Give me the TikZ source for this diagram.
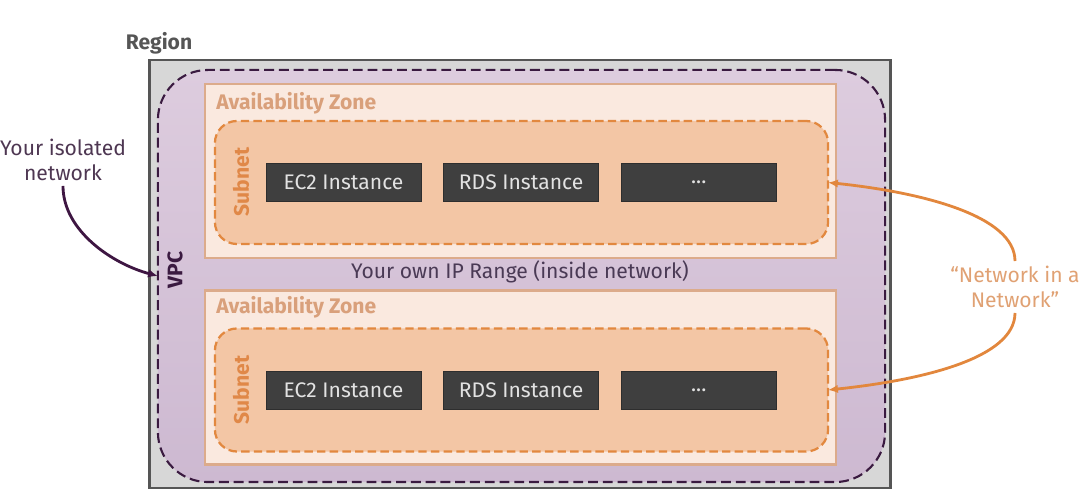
\documentclass[tikz,border=0pt]{standalone}
\usepackage{fontspec}
\setmainfont{Fira Sans}
\usetikzlibrary{positioning,arrows.meta}

\begin{document}
\begin{tikzpicture}[x=0.025cm,y=-0.025cm,
  every node/.style={font=\fontsize{15}{18}\selectfont},
  region/.style={draw=regline,fill=regfill,line width=2pt,minimum width=18.5cm,minimum height=10.7cm,inner sep=0,outer sep=0},
  vpcbox/.style={draw=vpcline,top color=vpctop,bottom color=vpcbot,dash pattern=on 7pt off 3.5pt,line width=1.5pt,rounded corners=1.25cm,minimum width=18.175cm,minimum height=10.3cm,inner sep=0,outer sep=0},
  zone/.style={draw=azline,fill=azfill,line width=2pt,minimum width=15.775cm,minimum height=4.35cm,inner sep=0,outer sep=0},
  subnetbox/.style={draw=snline,fill=snfill,dash pattern=on 6pt off 3pt,line width=1.6pt,rounded corners=0.55cm,minimum width=15.325cm,minimum height=3.075cm,inner sep=0,outer sep=0},
  inst/.style={fill=instfill,draw=instline,text=insttext,minimum width=3.875cm,minimum height=0.95cm,inner sep=0},
  azlabel/.style={anchor=west,text=azlabelc,font=\fontsize{15}{18}\selectfont\bfseries,inner sep=0},
  snlabel/.style={rotate=90,text=snlabelc,font=\fontsize{15}{18}\selectfont\bfseries,inner sep=0},
  note/.style={align=center}]

\definecolor{regfill}{HTML}{D7D7D7}
\definecolor{regline}{HTML}{555555}
\definecolor{vpctop}{HTML}{DDCCDE}
\definecolor{vpcbot}{HTML}{CDB9D1}
\definecolor{vpcline}{HTML}{3A1A40}
\definecolor{azfill}{HTML}{FAE9DF}
\definecolor{azline}{HTML}{DCAB8B}
\definecolor{azlabelc}{HTML}{D9A07B}
\definecolor{snfill}{HTML}{F3C6A5}
\definecolor{snline}{HTML}{E2883F}
\definecolor{snlabelc}{HTML}{E08848}
\definecolor{instfill}{HTML}{3F3F3F}
\definecolor{instline}{HTML}{2E2E2E}
\definecolor{insttext}{HTML}{E2E2E2}
\definecolor{isoline}{HTML}{3E1642}
\definecolor{isotext}{HTML}{4E3752}
\definecolor{nettext}{HTML}{E0A173}
\definecolor{netline}{HTML}{E2873D}
\definecolor{iptext}{HTML}{4A3A55}

\useasboundingbox (0,0) rectangle (1080,491);

\node[font=\fontsize{15}{18}\selectfont\bfseries,text=regline] (regionlabel) at (159,43) {Region};
\node[region] (region) at (520,274) {};
\node[vpcbox] (vpc) at (521.5,276) {};
\node[rotate=90,font=\fontsize{15}{18}\selectfont\bfseries,text=vpcline,inner sep=0] (vpclabel) at (175,270) {VPC};

\node[zone] (aza) at (520.5,171) {};
\node[azlabel] (azlabela) at (216,103) {Availability Zone};
\node[subnetbox] (subneta) at (521.5,182.5) {};
\node[snlabel] (snlabela) at (241,182) {Subnet};
\node[inst] (ec2a) at (343.5,182) {EC2 Instance};
\node[inst,right=0.55cm of ec2a] (rdsa) {RDS Instance};
\node[inst,right=0.55cm of rdsa] (morea) {{.}{.}{.}};

\node[text=iptext] (iprange) at (520,272) {Your own IP Range (inside network)};

\node[zone] (azb) at (520.5,377.5) {};
\node[azlabel] (azlabelb) at (216,307) {Availability Zone};
\node[subnetbox] (subnetb) at (521.5,390) {};
\node[snlabel] (snlabelb) at (241,390) {Subnet};
\node[inst] (ec2b) at (343.5,390) {EC2 Instance};
\node[inst,right=0.55cm of ec2b] (rdsb) {RDS Instance};
\node[inst,right=0.55cm of rdsb] (moreb) {{.}{.}{.}};

\node[note,text=isotext] (isolated) at (63,160) {Your isolated\\network};
\node[note,text=nettext] (netnet) at (1015,287) {“Network in a\\Network”};

\draw[isoline,line width=2pt,-{Latex[length=7pt,width=6pt]}] (isolated.south) .. controls +(0,45) and +(-45,-12) .. (vpc.west);
\draw[netline,line width=2pt,-{Latex[length=7pt,width=6pt]}] (netnet.north) .. controls +(0,-45) and +(95,10) .. (subneta.east);
\draw[netline,line width=2pt,-{Latex[length=7pt,width=6pt]}] (netnet.south) .. controls +(0,45) and +(95,-10) .. (subnetb.east);

\end{tikzpicture}
\end{document}
